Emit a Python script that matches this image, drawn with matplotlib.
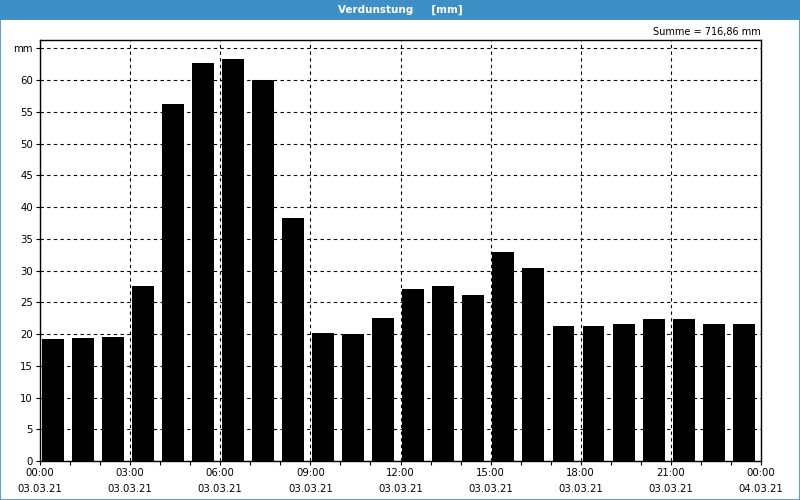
import matplotlib.pyplot as plt
from matplotlib.patches import Rectangle

hours = list(range(24))
values = [19.2, 19.4, 19.5, 27.5, 56.2, 62.7, 63.3, 60.0, 38.3, 20.1, 20.0, 22.5,
          27.1, 27.5, 26.1, 32.9, 30.4, 21.3, 21.3, 21.6, 22.4, 22.4, 21.6, 21.6]
tick_pos = [0, 3, 6, 9, 12, 15, 18, 21, 24]
tick_labels = ["00:00\n03.03.21", "03:00\n03.03.21", "06:00\n03.03.21", "09:00\n03.03.21",
               "12:00\n03.03.21", "15:00\n03.03.21", "18:00\n03.03.21", "21:00\n03.03.21",
               "00:00\n04.03.21"]
y_ticks = [0, 5, 10, 15, 20, 25, 30, 35, 40, 45, 50, 55, 60, 65]
y_labels = ["0", "5", "10", "15", "20", "25", "30", "35", "40", "45", "50", "55", "60", "mm"]

plt.rcParams['font.family'] = ['DejaVu Sans']
fig = plt.figure(figsize=(8, 5), dpi=100)
fig.patch.set_facecolor('white')

# title bar + thin frame
fig.patches.append(Rectangle((0, 1 - 20 / 500), 1, 20 / 500, transform=fig.transFigure,
                             facecolor='#3d8fc6', edgecolor='none'))
fig.patches.append(Rectangle((0.0006, 0.001), 0.9988, 0.998, transform=fig.transFigure,
                             facecolor='none', edgecolor='#3d8fc6', lw=1.2))
fig.text(0.5, 1 - 10 / 500, "Verdunstung     [mm]", color='white', fontsize=7.5,
         fontweight='bold', ha='center', va='center')
fig.text(761 / 800, 1 - 32 / 500, "Summe = 716,86 mm", fontsize=7, ha='right', va='center')

ax = fig.add_axes([40 / 800, 39 / 500, 721 / 800, 421 / 500])
ax.bar([h + 0.06 for h in hours], values, width=0.73, align='edge', color='black', zorder=3)
ax.set_xlim(0, 24)
ax.set_ylim(0, 66.3)
ax.set_xticks(tick_pos)
ax.set_xticklabels(tick_labels, fontsize=7.3, linespacing=1.75)
ax.set_xticks(hours, minor=True)
ax.set_yticks(y_ticks)
ax.set_yticklabels(y_labels, fontsize=7.3)
ax.tick_params(axis='both', which='both', length=3, width=0.8, pad=2)
ax.grid(True, which='major', color='black', linestyle=(0, (3, 3)), linewidth=0.8, zorder=1)
for s in ax.spines.values():
    s.set_linewidth(1)

fig.savefig("out.png", dpi=100)
